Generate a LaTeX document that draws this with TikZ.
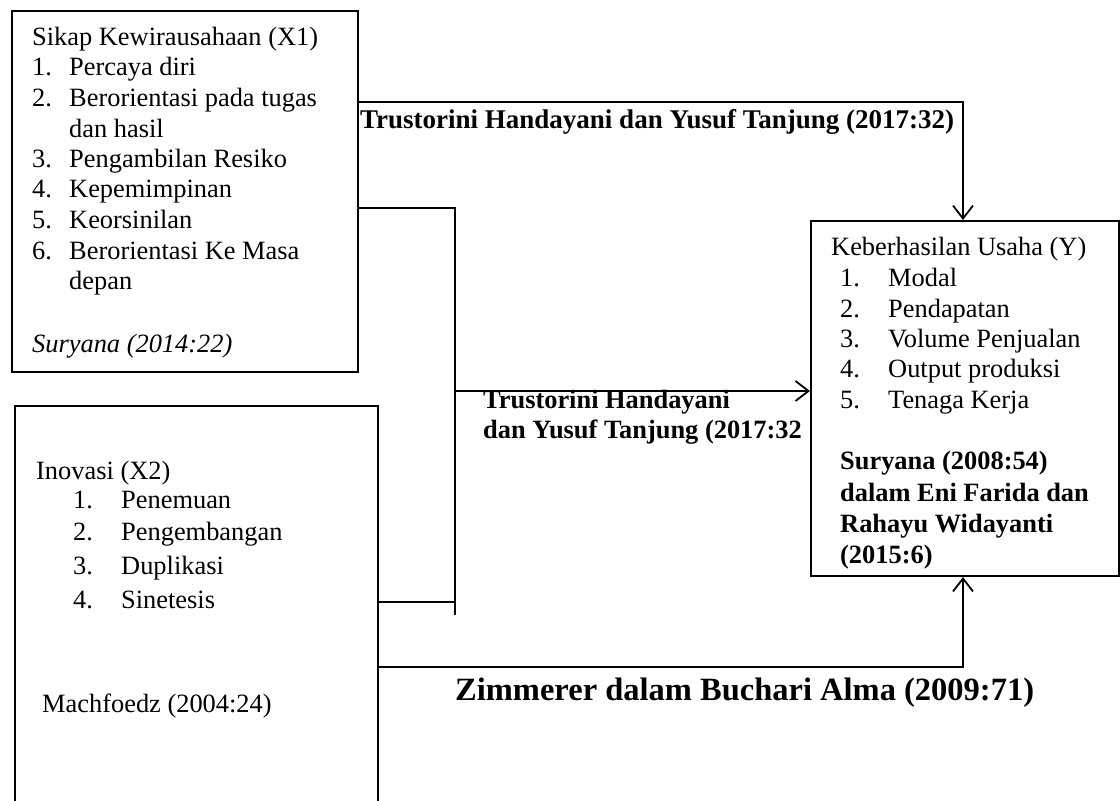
\documentclass[tikz,border=0pt]{standalone}
\usepackage{fontspec}
\setmainfont{Liberation Serif}
\usetikzlibrary{arrows.meta}
\begin{document}
\begin{tikzpicture}[x=1pt,y=-1pt,
  box/.style={draw,line width=2pt,inner sep=0pt,anchor=north west},
  txt/.style={anchor=base west,inner sep=0pt,font=\fontsize{26.4}{30}\selectfont},
  btxt/.style={anchor=base west,inner sep=0pt,font=\fontsize{26.4}{30}\selectfont\bfseries},
  conn/.style={line width=1.8pt},
  arr/.style={conn,-{Straight Barb[length=13pt,width=20pt,line width=1.8pt]}}]
\useasboundingbox (0,0) rectangle (1120,801);
\clip (0,0) rectangle (1120,801);
\fill[white] (0,0) rectangle (1120,801);
% boxes
\node[box,minimum width=346pt,minimum height=361pt] (x1) at (11,10) {};
\node[box,minimum width=363pt,minimum height=440pt] (x2) at (14,405) {};
\node[box,minimum width=308pt,minimum height=355pt] (y) at (810,220) {};
% X1 text
\node[txt] (a0) at (32,45) {Sikap Kewirausahaan (X1)};
\node[txt] (a1n) at (32,75) {1.};
\node[txt] (a1) at (69,75) {Percaya diri};
\node[txt] (a2n) at (32,106) {2.};
\node[txt] (a2) at (69,106) {Berorientasi pada tugas};
\node[txt] (a2b) at (69,137) {dan hasil};
\node[txt] (a3n) at (32,167) {3.};
\node[txt] (a3) at (69,167) {Pengambilan Resiko};
\node[txt] (a4n) at (32,197) {4.};
\node[txt] (a4) at (69,197) {Kepemimpinan};
\node[txt] (a5n) at (32,228) {5.};
\node[txt] (a5) at (69,228) {Keorsinilan};
\node[txt] (a6n) at (32,259) {6.};
\node[txt] (a6) at (69,259) {Berorientasi Ke Masa};
\node[txt] (a6b) at (69,289) {depan};
\node[txt] (asrc) at (32,352) {\itshape Suryana (2014:22)};
% X2 text
\node[txt] (b0) at (36,479) {Inovasi (X2)};
\node[txt] (b1n) at (73,508) {1.};
\node[txt] (b1) at (121,508) {Penemuan};
\node[txt] (b2n) at (73,540) {2.};
\node[txt] (b2) at (121,540) {Pengembangan};
\node[txt] (b3n) at (73,574) {3.};
\node[txt] (b3) at (121,574) {Duplikasi};
\node[txt] (b4n) at (73,608) {4.};
\node[txt] (b4) at (121,608) {Sinetesis};
\node[txt] (bsrc) at (42,712) {Machfoedz (2004:24)};
% Y text
\node[txt] (c0) at (831,255) {Keberhasilan Usaha (Y)};
\node[txt] (c1n) at (840,286) {1.};
\node[txt] (c1) at (888,286) {Modal};
\node[txt] (c2n) at (840,317) {2.};
\node[txt] (c2) at (888,317) {Pendapatan};
\node[txt] (c3n) at (840,347) {3.};
\node[txt] (c3) at (888,347) {Volume Penjualan};
\node[txt] (c4n) at (840,377) {4.};
\node[txt] (c4) at (888,377) {Output produksi};
\node[txt] (c5n) at (840,408) {5.};
\node[txt] (c5) at (888,408) {Tenaga Kerja};
\node[btxt] (cs1) at (840,469) {Suryana (2008:54)};
\node[btxt] (cs2) at (840,501) {dalam Eni Farida dan};
\node[btxt] (cs3) at (840,532) {Rahayu Widayanti};
\node[btxt] (cs4) at (840,563) {(2015:6)};
% connectors
\coordinate (t1) at (963,102);
\draw[arr] (x1.east |- t1) -- (t1) -- (y.north -| t1);
\coordinate (j1) at (455,208);
\coordinate (jb) at (455,615);
\draw[conn] (x1.east |- j1) -- (j1) -- (jb);
\coordinate (j2) at (455,602);
\draw[conn] (x2.east |- j2) -- (j2);
\coordinate (j3) at (455,391);
\draw[arr] (j3) -- (y.west |- j3);
\coordinate (t3) at (963,667);
\draw[arr] (x2.east |- t3) -- (t3) -- (y.south -| t3);
% labels
\node[btxt,font=\fontsize{27}{30}\selectfont\bfseries] (l1) at (360,128) {Trustorini Handayani dan Yusuf Tanjung (2017:32)};
\node[btxt] (l2a) at (483,408) {Trustorini Handayani};
\node[btxt] (l2b) at (483,438) {dan Yusuf Tanjung (2017:32};
\node[btxt,font=\fontsize{32.5}{36}\selectfont\bfseries] (l3) at (455,700) {Zimmerer dalam Buchari Alma (2009:71)};
\end{tikzpicture}
\end{document}
